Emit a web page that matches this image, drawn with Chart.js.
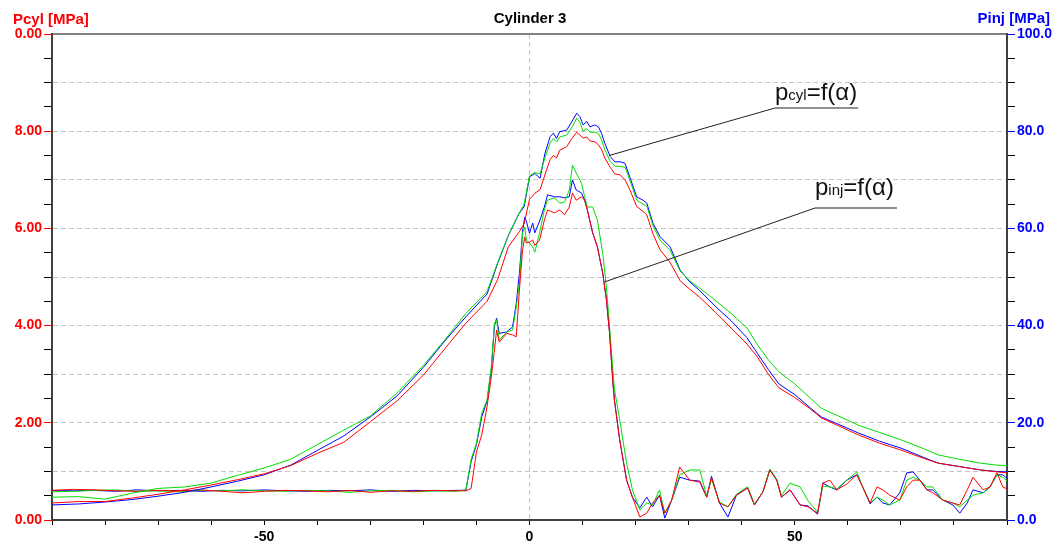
<!DOCTYPE html>
<html>
<head>
<meta charset="utf-8">
<script src="https://cdn.jsdelivr.net/npm/chart.js@4"></script>
<style>
  body { margin: 0; background: #fff; }
  #wrap { width: 1057px; height: 546px; }
</style>
</head>
<body>
<div id="wrap"><canvas id="chart" width="1057" height="546"></canvas></div>
<script>
// crank angle [deg] for cylinder pressure samples
const anglesCyl = [-90, -85, -80, -75, -70, -65, -60, -55, -50, -45, -40, -35, -30, -25, -20, -16,
  -12, -8, -6, -4, -2, -1, 0, 1, 2, 2.9, 3.9, 4.5, 5.1, 5.7, 7, 8, 8.9, 9.5, 10.1, 10.8, 11.4, 12.3, 13, 13.6,
  14.2, 15.2, 16.1, 17.1, 18, 18.9, 20.2, 21.4, 22.1, 23.3, 24.6, 26.5, 28.4, 30.2, 32, 35, 38, 41, 43, 45,
  47, 50, 53, 55, 58, 62, 66, 70, 74, 77, 81, 85, 88, 90];

const cylRed = [0.35, 0.38, 0.38, 0.45, 0.53, 0.62, 0.72, 0.83, 0.95, 1.12, 1.37, 1.60, 2.02, 2.45, 2.98, 3.52,
  4.05, 4.50, 4.95, 5.62, 5.92, 6.10, 6.60, 6.72, 6.80, 7.10, 7.42, 7.50, 7.45, 7.61, 7.68, 7.85, 7.98, 7.92, 7.86, 7.88, 7.80, 7.78, 7.72, 7.62,
  7.45, 7.26, 7.12, 7.10, 7.00, 6.80, 6.45, 6.35, 6.28, 5.88, 5.56, 5.30, 4.92, 4.75, 4.59, 4.28, 3.95, 3.62, 3.35, 3.00,
  2.72, 2.52, 2.28, 2.10, 1.95, 1.75, 1.58, 1.44, 1.28, 1.17, 1.10, 1.03, 0.99, 0.97];
const cylGreen = [0.47, 0.48, 0.43, 0.55, 0.65, 0.68, 0.76, 0.92, 1.07, 1.25, 1.55, 1.85, 2.14, 2.61, 3.18, 3.70,
  4.25, 4.70, 5.30, 5.85, 6.30, 6.50, 7.08, 7.15, 7.12, 7.45, 7.76, 7.85, 7.78, 7.88, 7.92, 8.08, 8.27, 8.18, 8.00, 8.05, 7.98, 7.98, 7.95, 7.82,
  7.62, 7.38, 7.28, 7.27, 7.26, 7.00, 6.58, 6.50, 6.46, 6.05, 5.76, 5.55, 5.12, 4.92, 4.78, 4.52, 4.25, 3.95, 3.60, 3.30,
  3.05, 2.80, 2.50, 2.30, 2.15, 1.95, 1.80, 1.65, 1.48, 1.34, 1.25, 1.17, 1.13, 1.12];
const cylBlue = [0.31, 0.33, 0.37, 0.42, 0.49, 0.57, 0.68, 0.80, 0.93, 1.13, 1.43, 1.73, 2.12, 2.55, 3.14, 3.68,
  4.18, 4.65, 5.28, 5.85, 6.30, 6.45, 7.06, 7.13, 7.03, 7.54, 7.89, 7.96, 7.85, 7.99, 8.02, 8.20, 8.37, 8.30, 8.13, 8.20, 8.09, 8.13, 8.09, 7.95,
  7.75, 7.48, 7.37, 7.37, 7.34, 7.06, 6.65, 6.58, 6.52, 6.10, 5.83, 5.62, 5.14, 4.90, 4.73, 4.40, 4.10, 3.75, 3.42, 3.10,
  2.80, 2.58, 2.30, 2.12, 1.98, 1.79, 1.62, 1.48, 1.30, 1.17, 1.10, 1.03, 1.00, 0.99];

// crank angle [deg] for injection pressure samples
const anglesInj = [-90, -86, -82, -78, -74, -70, -66, -62, -58, -54, -50, -46, -42, -38, -34, -30, -26, -22, -18, -14,
  -12, -11, -10, -9, -8, -7.2, -6.6, -6.2, -5.7, -4.3, -3.2, -2.5, -1.9, -1.3, -0.9, -0.6, 0, 0.6, 1, 1.9,
  2.8, 3.4, 4.7, 5.7, 6.6, 7.5, 8.1, 8.8, 9.8, 10.4, 10.9, 11.9, 12.8, 13.8, 14.5, 15.1, 15.7, 16, 17, 18.3,
  19.4, 20.8, 22.1, 23.2, 24.5, 25.5, 26.8, 28.3, 30.2, 32.1, 33.4, 34.3, 35.8, 37.4, 39, 41.1, 42.4, 44, 45.3, 46.6,
  47.5, 49.1, 51, 52.5, 54.3, 55.3, 56.6, 57.9, 59.8, 61.7, 62.8, 64.2, 65.5, 66.6, 67.9, 69.8, 71.1, 72.3, 73.6, 74.9,
  76, 77.9, 79.8, 81.1, 82.5, 83.6, 85.5, 86.8, 88.1, 89.2, 90];

const injRed = [6.1, 6.3, 6.2, 6.0, 5.9, 6.1, 6.0, 6.2, 5.9, 5.6, 5.9, 6.1, 6.0, 5.8, 6.1, 5.7, 6.0, 5.9, 6.1, 6.0,
  6.0, 6.5, 14.0, 17.5, 23.3, 29.4, 35.0, 39.1, 36.6, 38.4, 38.1, 37.7, 47.3, 55.6, 58.2, 57.0, 57.2, 57.6, 56.5, 57.6,
  61.7, 63.8, 63.2, 63.8, 62.8, 64.4, 67.3, 65.8, 66.5, 65.8, 63.8, 59.1, 56.2, 50.8, 45.3, 38.4, 28.5, 24.7, 16.5, 8.2,
  4.7, 0.6, 1.4, 3.5, 5.1, 1.4, 4.1, 10.9, 8.2, 7.8, 4.7, 8.8, 3.5, 2.7, 5.1, 6.6, 3.1, 5.8, 10.3, 8.2,
  4.7, 6.2, 3.1, 2.7, 1.4, 7.6, 8.2, 6.2, 7.4, 9.3, 6.8, 3.5, 6.8, 6.2, 5.1, 4.1, 6.8, 8.2, 8.2, 6.2,
  5.6, 4.1, 3.5, 3.1, 6.2, 8.8, 6.2, 6.8, 9.7, 6.8, 6.4];
const injGreen = [5.8, 5.9, 6.1, 6.2, 5.9, 6.0, 5.8, 6.1, 6.0, 6.2, 6.0, 5.9, 6.1, 6.0, 5.7, 6.0, 6.1, 5.8, 6.0, 5.9,
  6.2, 12.5, 15.8, 22.0, 24.7, 31.5, 40.5, 41.2, 37.0, 38.7, 39.1, 43.8, 48.8, 59.1, 60.3, 57.6, 57.0, 56.2, 55.1, 59.1,
  63.8, 65.8, 66.3, 65.2, 65.4, 67.9, 73.0, 71.4, 69.3, 66.5, 64.4, 64.4, 61.7, 54.9, 47.9, 39.7, 31.0, 27.0, 20.6, 11.7,
  6.2, 2.1, 3.5, 3.1, 6.2, 1.4, 4.1, 9.3, 10.3, 10.3, 4.9, 8.4, 3.7, 2.7, 5.3, 6.8, 3.3, 5.8, 10.5, 8.4,
  5.0, 7.6, 6.8, 4.0, 1.6, 7.0, 6.8, 6.4, 8.2, 9.9, 6.8, 3.5, 4.7, 4.1, 3.1, 4.1, 8.2, 8.8, 8.2, 6.8,
  6.8, 4.1, 3.5, 2.7, 4.1, 5.1, 5.6, 6.8, 9.3, 8.8, 8.0];
const injBlue = [6.1, 6.0, 6.1, 5.9, 6.2, 6.0, 6.1, 5.9, 6.1, 6.0, 6.2, 6.0, 5.9, 6.1, 6.0, 6.2, 5.9, 6.1, 6.0, 6.1,
  6.1, 12.0, 15.5, 21.2, 24.5, 31.0, 40.0, 41.5, 38.4, 38.7, 39.7, 44.5, 50.8, 59.5, 62.3, 61.5, 59.0, 61.1, 59.1, 61.5,
  64.4, 66.9, 66.5, 66.5, 66.3, 66.5, 70.0, 67.9, 67.3, 65.8, 63.8, 59.1, 56.2, 50.8, 45.3, 38.4, 28.5, 24.7, 16.5, 8.2,
  4.7, 2.5, 4.7, 2.7, 5.1, 0.4, 4.1, 8.8, 8.2, 8.0, 4.7, 9.0, 3.5, 0.6, 5.1, 6.6, 3.1, 5.8, 10.3, 8.2,
  4.7, 6.2, 3.1, 2.9, 1.2, 7.6, 6.8, 6.2, 8.2, 9.3, 6.8, 3.3, 4.7, 3.5, 3.1, 5.6, 9.7, 9.9, 8.2, 6.2,
  6.2, 4.1, 3.1, 1.4, 3.5, 6.2, 5.6, 6.8, 9.3, 9.3, 8.6];

// tick labels as shown on the axes
const xTickValues = [-50, 0, 50];
const xTickLabels = ["-50", "0", "50"];
const leftTickValues = [0, 2, 4, 6, 8, 10];
const leftTickLabels = ["0.00", "2.00", "4.00", "6.00", "8.00", "0.00"];
const rightTickValues = [0, 20, 40, 60, 80, 100];
const rightTickLabels = ["0.0", "20.0", "40.0", "60.0", "80.0", "100.0"];

const FONT = '"Liberation Sans", Arial, sans-serif';

function toPoints(xs, ys) {
  return xs.map((x, i) => ({ x: x, y: ys[i] }));
}

function labelFor(values, labels, v) {
  const i = values.indexOf(v);
  return i >= 0 ? labels[i] : "";
}

function line(label, xs, ys, color, axis) {
  return {
    label: label,
    data: toPoints(xs, ys),
    borderColor: color,
    borderWidth: 1,
    pointRadius: 0,
    tension: 0,
    fill: false,
    yAxisID: axis,
  };
}

// titles and the two pointer notes
const notesPlugin = {
  id: "notes",
  afterDraw(chart) {
    const c = chart.ctx;
    const sx = chart.scales.x;
    c.save();
    c.font = "bold 15px " + FONT;
    c.textBaseline = "alphabetic";
    c.fillStyle = "#ff0000";
    c.textAlign = "left";
    c.fillText("Pcyl [MPa]", 13, 24);
    c.fillStyle = "#000";
    c.textAlign = "center";
    c.fillText("Cylinder 3", 530, 23);
    c.fillStyle = "#0000ff";
    c.textAlign = "right";
    c.fillText("Pinj [MPa]", 1050, 23);

    drawNote(c, "cyl", 775, 100, 858, 108,
      sx.getPixelForValue(15), chart.scales.yCyl.getPixelForValue(7.5));
    drawNote(c, "inj", 815, 195, 897, 208,
      sx.getPixelForValue(14.2), chart.scales.yInj.getPixelForValue(49));
    c.restore();
  },
};

function drawNote(c, sub, x, y, xEnd, yLine, tx, ty) {
  c.fillStyle = "#111";
  c.textAlign = "left";
  c.font = "24px " + FONT;
  c.fillText("p", x, y);
  let px = x + c.measureText("p").width;
  c.font = "15px " + FONT;
  c.fillText(sub, px, y);
  px += c.measureText(sub).width;
  c.font = "24px " + FONT;
  c.fillText("=f(α)", px, y);

  c.strokeStyle = "#222";
  c.lineWidth = 1;
  c.beginPath();
  c.moveTo(xEnd, yLine);
  c.lineTo(x, yLine);
  c.lineTo(tx, ty);
  c.stroke();
}

const ctx = document.getElementById("chart").getContext("2d");
const myChart = new Chart(ctx, {
  type: "line",
  data: {
    datasets: [
      line("pcyl 1", anglesCyl, cylRed, "#ff0000", "yCyl"),
      line("pcyl 2", anglesCyl, cylGreen, "#00dd00", "yCyl"),
      line("pcyl 3", anglesCyl, cylBlue, "#0000ff", "yCyl"),
      line("pinj 1", anglesInj, injRed, "#ff0000", "yInj"),
      line("pinj 2", anglesInj, injGreen, "#00dd00", "yInj"),
      line("pinj 3", anglesInj, injBlue, "#0000ff", "yInj"),
    ],
  },
  options: {
    responsive: false,
    devicePixelRatio: 1,
    animation: false,
    layout: { padding: 0 },
    plugins: {
      legend: { display: false },
      title: { display: false },
      tooltip: { enabled: false },
    },
    scales: {
      x: {
        type: "linear",
        position: "bottom",
        min: -90,
        max: 90,
        afterFit: (s) => { s.height = 26; },
        ticks: {
          stepSize: 10,
          autoSkip: false,
          maxRotation: 0,
          padding: 4,
          color: "#000",
          font: { family: FONT, size: 14, weight: "bold" },
          callback: (v) => labelFor(xTickValues, xTickLabels, v),
        },
        grid: {
          color: (c) => (c.tick && c.tick.value === 0 ? "#c4c4c4" : "rgba(0,0,0,0)"),
          tickColor: "#000",
          tickLength: 5,
          lineWidth: 1,
        },
        border: { color: "#404040", width: 2, dash: [5, 3] },
      },
      xTop: {
        type: "linear",
        position: "top",
        min: -90,
        max: 90,
        afterFit: (s) => { s.height = 34; },
        ticks: { display: false },
        grid: { display: false, drawTicks: false },
        border: { color: "#808080", width: 2 },
      },
      yCyl: {
        type: "linear",
        position: "left",
        min: 0,
        max: 10,
        afterFit: (s) => { s.width = 52; },
        ticks: {
          stepSize: 0.5,
          autoSkip: false,
          padding: 2,
          color: "#ff0000",
          font: { family: FONT, size: 14, weight: "bold" },
          callback: (v) => labelFor(leftTickValues, leftTickLabels, v),
        },
        grid: {
          color: (c) => {
            const v = c.tick ? c.tick.value : -1;
            return Number.isInteger(v) && v > 0 && v < 10 ? "#c4c4c4" : "rgba(0,0,0,0)";
          },
          tickColor: (c) => (c.tick && c.tick.value % 2 === 0 ? "#ff0000" : "#000"),
          tickLength: 8,
          lineWidth: 1,
        },
        border: { color: "#404040", width: 2, dash: [5, 3] },
      },
      yInj: {
        type: "linear",
        position: "right",
        min: 0,
        max: 100,
        afterFit: (s) => { s.width = 50; },
        ticks: {
          stepSize: 5,
          autoSkip: false,
          padding: 2,
          color: "#0000ff",
          font: { family: FONT, size: 14, weight: "bold" },
          callback: (v) => labelFor(rightTickValues, rightTickLabels, v),
        },
        grid: {
          drawOnChartArea: false,
          tickColor: (c) => (c.tick && c.tick.value % 20 === 0 ? "#0000ff" : "#000"),
          tickLength: 8,
        },
        border: { color: "#404040", width: 2 },
      },
    },
  },
  plugins: [notesPlugin],
});
</script>
</body>
</html>
